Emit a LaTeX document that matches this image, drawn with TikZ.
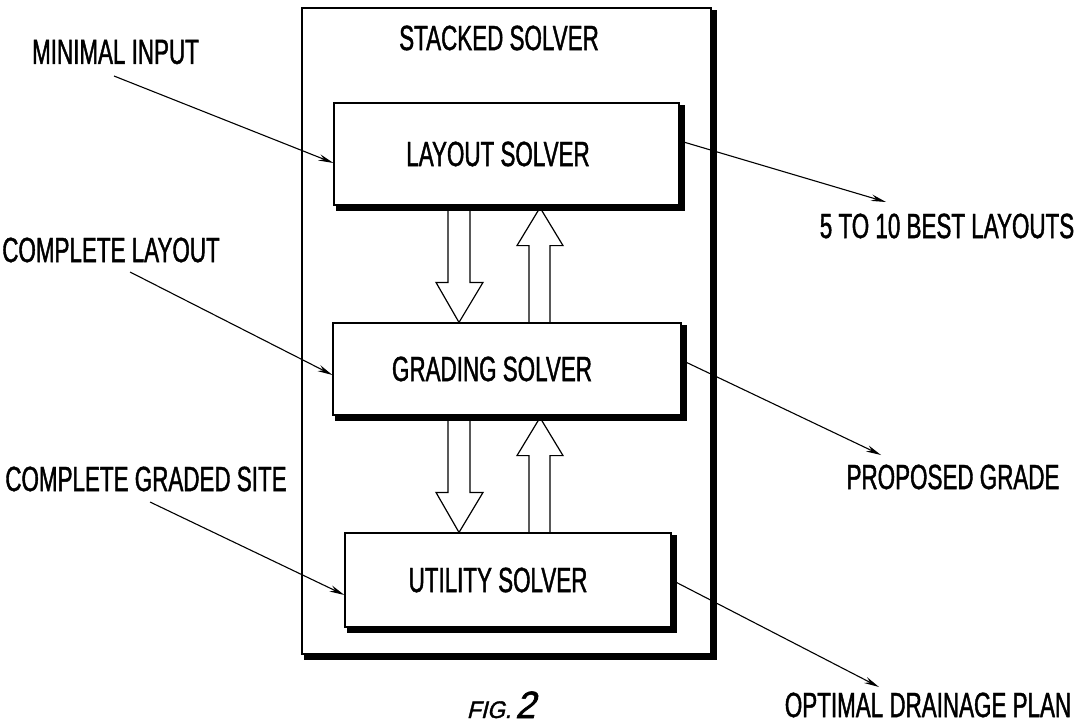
\documentclass[tikz,border=0pt]{standalone}
\usepackage{fontspec}
\setmainfont{Liberation Sans}[FakeStretch=0.64,FakeBold=1.2]
\newfontfamily\figfont{Liberation Sans}[FakeStretch=0.95,FakeBold=1.5,FakeSlant=0.25]
\usetikzlibrary{arrows.meta,calc}
\tikzset{
  box/.style={draw, line width=1.2pt, inner sep=0pt},
  lbl/.style={inner sep=0pt, font=\fontsize{35}{40}\selectfont},
  shadowline/.style={line width=5pt, line cap=rect},
  conn/.style={line width=1.1pt, -{Stealth[length=15pt,width=6.5pt]}},
  blk/.style={line width=1.2pt, line join=miter},
}
\newcommand\shadowedge[1]{%
  \draw[shadowline] ([shift={(2.5,5)}]#1.north east) -- ([shift={(2.5,2.5)}]#1.south east) -- ([shift={(5,2.5)}]#1.south west);}
\newcommand\blkdn[3]{% x, upper node, lower node : arrow pointing down
  \draw[blk] let \p1=(#2.south), \p2=(#3.north) in
    ({#1pt-11pt},\y1) -- ({#1pt-11pt},\y2+40pt) -- ({#1pt-23pt},\y2+40pt) -- (#1pt,\y2)
    -- ({#1pt+24pt},\y2+40pt) -- ({#1pt+11pt},\y2+40pt) -- ({#1pt+11pt},\y1);}
\newcommand\blkup[3]{% x, upper node, lower node : arrow pointing up
  \draw[blk] let \p1=(#2.south), \p2=(#3.north) in
    ({#1pt-11pt},\y2) -- ({#1pt-11pt},\y1-40pt) -- ({#1pt-23pt},\y1-40pt) -- (#1pt,\y1-2pt)
    -- ({#1pt+23pt},\y1-40pt) -- ({#1pt+10pt},\y1-40pt) -- ({#1pt+10pt},\y2);}
\begin{document}
\begin{tikzpicture}[x=1pt,y=-1pt]
\useasboundingbox (0,0) rectangle (1075,725);

% outer stacked solver box
\node[box, minimum width=409pt, minimum height=646pt] (stack) at (506.5,331) {};
\shadowedge{stack}
\node[lbl] (stacktitle) at (499,38) {STACKED SOLVER};

% inner solver boxes
\node[box, minimum width=345pt, minimum height=102pt, lbl] (layout) at (506.5,154) {\raisebox{-7pt}{LAYOUT SOLVER}\hspace*{17pt}};
\shadowedge{layout}
\node[box, minimum width=348pt, minimum height=92pt, lbl] (grading) at (507,369) {GRADING SOLVER\hspace*{30pt}};
\shadowedge{grading}
\node[box, minimum width=326pt, minimum height=94pt, lbl] (utility) at (508,580) {UTILITY SOLVER\hspace*{20pt}};
\shadowedge{utility}

% block arrows
\blkdn{459}{layout}{grading}
\blkup{540}{layout}{grading}
\blkdn{459}{grading}{utility}
\blkup{540}{grading}{utility}

% labels
\node[lbl] (minimal) at (115.5,52) {MINIMAL INPUT};
\node[lbl] (complay) at (111,250) {COMPLETE LAYOUT};
\node[lbl] (compgraded) at (146,479) {COMPLETE GRADED SITE};
\node[lbl] (best) at (947,226) {5 TO 10 BEST LAYOUTS};
\node[lbl] (proposed) at (953,477) {PROPOSED GRADE};
\node[lbl] (optimal) at (928,705) {OPTIMAL DRAINAGE PLAN};
\node[inner sep=0pt, anchor=base] (fig) at (501,718) {\figfont\fontsize{24}{28}\selectfont FIG.\,\fontsize{38}{42}\selectfont 2};

% free ends of connectors
\coordinate (mi) at (114,76);
\coordinate (cl) at (130,272);
\coordinate (cg) at (150,502);
\coordinate (bl) at (886,202);
\coordinate (pg) at (881,455);
\coordinate (od) at (879,687);

% connectors
\draw[conn] (mi) -- ([yshift=-9pt]layout.west);
\draw[conn] (cl) -- ([yshift=-6pt]grading.west);
\draw[conn] (cg) -- ([yshift=-15pt]utility.west);
\draw[conn] ([xshift=4pt,yshift=12pt]layout.east) -- (bl);
\draw[conn] ([xshift=4pt,yshift=7pt]grading.east) -- (pg);
\draw[conn] ([xshift=4pt,yshift=-2pt]utility.east) -- (od);
\end{tikzpicture}
\end{document}
